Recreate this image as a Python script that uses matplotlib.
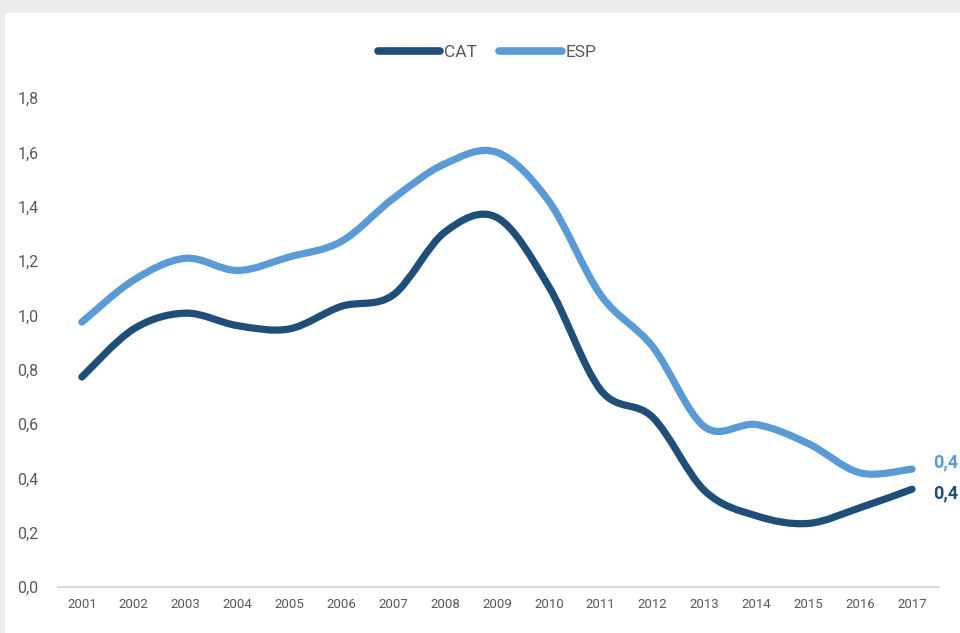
import matplotlib.pyplot as plt
from matplotlib.path import Path
from matplotlib.patches import PathPatch, Rectangle
from matplotlib.lines import Line2D
from matplotlib.ticker import FuncFormatter
import numpy as np

years = list(range(2001, 2018))
cat = [0.773, 0.950, 1.008, 0.962, 0.950, 1.033, 1.075, 1.307, 1.360, 1.106,
       0.725, 0.625, 0.355, 0.262, 0.234, 0.292, 0.360]
esp = [0.975, 1.130, 1.210, 1.165, 1.215, 1.272, 1.430, 1.558, 1.600, 1.420,
       1.075, 0.885, 0.590, 0.598, 0.528, 0.420, 0.434]
end_label = "0,4"

CAT_COLOR = "#1f4e79"
ESP_COLOR = "#5b9bd5"
GREY_TXT = "#595959"

plt.rcParams['font.family'] = ['Roboto', 'DejaVu Sans']


def smooth_path(x, y):
    # Catmull-Rom style bezier, like spreadsheet "smoothed line"
    x = np.asarray(x, float)
    y = np.asarray(y, float)
    px = np.concatenate([[x[0]], x, [x[-1]]])
    py = np.concatenate([[y[0]], y, [y[-1]]])
    verts = [(x[0], y[0])]
    codes = [Path.MOVETO]
    for i in range(1, len(x)):
        c1 = (px[i] + (px[i + 1] - px[i - 1]) / 6, py[i] + (py[i + 1] - py[i - 1]) / 6)
        c2 = (px[i + 1] - (px[i + 2] - px[i]) / 6, py[i + 1] - (py[i + 2] - py[i]) / 6)
        verts += [c1, c2, (px[i + 1], py[i + 1])]
        codes += [Path.CURVE4] * 3
    return Path(verts, codes)


fig = plt.figure(figsize=(9.6, 6.33), dpi=100, facecolor="#ebeceb")
fig.patches.append(Rectangle((5 / 960, 0), 1, 1 - 13 / 633, transform=fig.transFigure,
                             facecolor="white", edgecolor="none", zorder=-10))
ax = fig.add_axes([58 / 960, 46 / 633, 881 / 960, 489 / 633])
ax.set_facecolor("none")
ax.set_zorder(2)

for vals, col in [(cat, CAT_COLOR), (esp, ESP_COLOR)]:
    ax.add_patch(PathPatch(smooth_path(years, vals), facecolor="none", edgecolor=col,
                           lw=5.2, capstyle="round", joinstyle="round", zorder=3))

ax.set_xlim(2000.54, 2017.52)
ax.set_ylim(0, 1.8)
ax.set_xticks(years)
ax.set_yticks(np.arange(0, 1.81, 0.2))
ax.yaxis.set_major_formatter(FuncFormatter(lambda v, p: f"{v:.1f}".replace(".", ",")))
for s in ["top", "right", "left"]:
    ax.spines[s].set_visible(False)
ax.spines["bottom"].set_color("#d9d9d9")
ax.spines["bottom"].set_linewidth(1.5)
ax.tick_params(axis="x", length=0, pad=8, labelsize=9.5, labelcolor=GREY_TXT)
ax.tick_params(axis="y", length=0, pad=14, labelsize=11.5, labelcolor=GREY_TXT)

ax.annotate(end_label, (years[-1], esp[-1]), xytext=(15, 5), textcoords="offset points",
            color=ESP_COLOR, fontsize=13, fontweight="bold", va="center", annotation_clip=False)
ax.annotate(end_label, (years[-1], cat[-1]), xytext=(15, -3), textcoords="offset points",
            color=CAT_COLOR, fontsize=13, fontweight="bold", va="center", annotation_clip=False)

handles = [Line2D([], [], color=CAT_COLOR, lw=5.5, solid_capstyle="round"),
           Line2D([], [], color=ESP_COLOR, lw=5.5, solid_capstyle="round")]
fig.legend(handles, ["CAT", "ESP"], loc="center", bbox_to_anchor=(487 / 960, 1 - 52 / 633),
           ncol=2, frameon=False, handlelength=3.6, handletextpad=0.2, columnspacing=1.3,
           prop={"size": 12.5}, labelcolor=GREY_TXT)

fig.savefig("out.png", dpi=100, facecolor=fig.get_facecolor())
